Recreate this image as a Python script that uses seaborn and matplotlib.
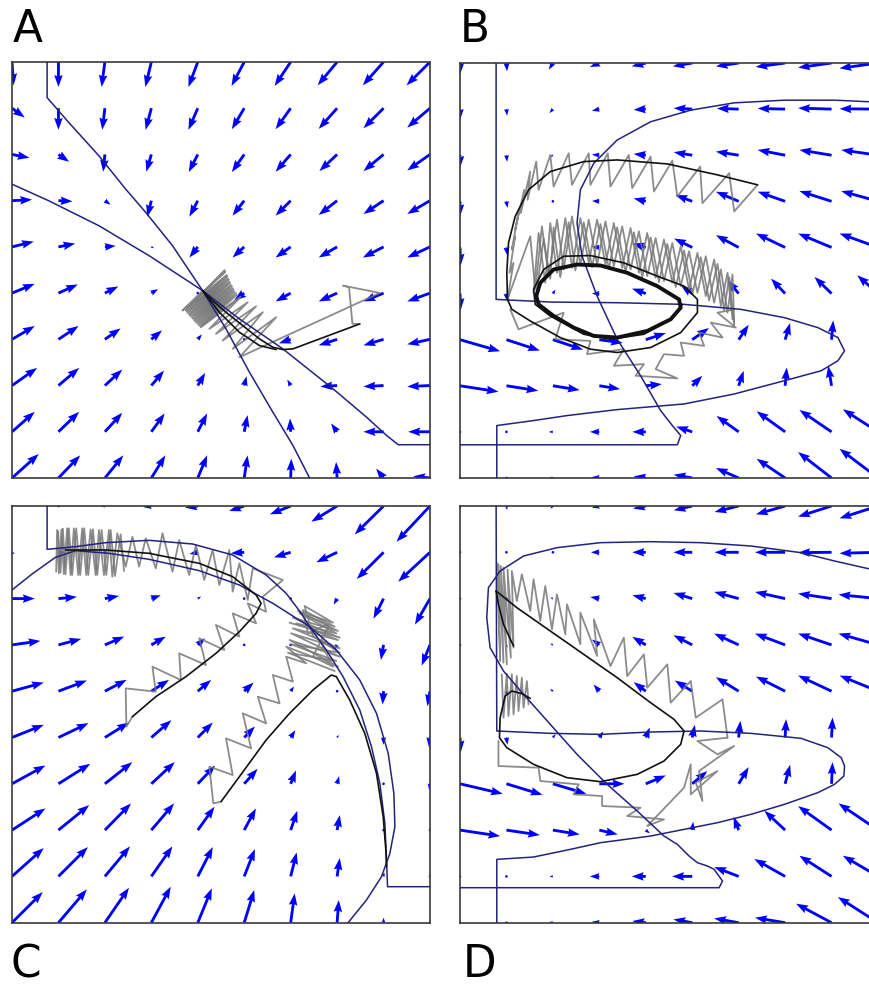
import numpy as np
import matplotlib
matplotlib.use("Agg")
import matplotlib.pyplot as plt
import seaborn as sns

sns.set_style("white")
plt.rcParams['font.family'] = ['DejaVu Sans']

# ---------------- shared settings ----------------
GRID = np.linspace(0, 125, 10)          # 10 x 10 sampling grid of the phase plane
PANEL_LABELS = ["A", "B", "C", "D"]

# ---------------- panel A: vector field (rows listed top to bottom) ----------------
A_U = [
    [0.5, 0.0, -1.0, -1.8, -2.8, -3.8, -4.8, -5.8, -6.2, -7.0],
    [3.8, 0.0, -0.8, -1.7, -2.8, -3.7, -4.5, -5.5, -6.0, -6.8],
    [5.2, 3.2, -0.5, -1.5, -2.7, -3.7, -4.5, -5.3, -6.0, -6.8],
    [6.0, 4.2, 1.7, -1.2, -2.5, -3.5, -4.5, -5.5, -6.0, -6.8],
    [6.5, 5.0, 3.2, 0.8, -2.5, -3.5, -4.5, -5.5, -6.2, -6.8],
    [6.8, 5.8, 4.0, 2.0, -0.3, -3.0, -4.5, -5.5, -6.0, -6.8],
    [6.8, 6.0, 4.7, 3.2, 1.2, 0.0, -3.5, -5.5, -6.0, -6.8],
    [7.5, 6.2, 5.2, 3.8, 2.2, 0.7, -1.0, -5.0, -6.0, -6.8],
    [6.8, 6.2, 5.2, 4.0, 2.8, 1.0, -0.2, -1.8, -6.0, -6.5],
    [8.0, 6.5, 5.5, 4.2, 2.8, 1.0, 0.2, -0.3, -2.2, -5.0],
]
A_V = [
    [-7.0, -7.5, -7.5, -7.5, -7.5, -7.2, -7.2, -7.0, -7.0, -7.0],
    [-2.8, -6.5, -6.5, -6.5, -6.5, -6.3, -6.3, -6.2, -6.0, -5.8],
    [-1.0, -2.2, -5.2, -5.2, -5.3, -5.3, -5.2, -5.0, -5.0, -4.8],
    [0.3, -0.2, -1.2, -4.8, -4.8, -4.5, -4.5, -4.3, -4.0, -4.0],
    [1.6, 1.0, 0.3, -0.4, -3.2, -3.2, -3.2, -3.2, -3.2, -3.2],
    [2.8, 2.6, 2.0, 1.2, -0.3, -2.2, -2.5, -2.5, -2.5, -2.5],
    [4.0, 4.0, 3.3, 2.7, 1.5, 0.5, -1.2, -1.8, -1.8, -1.5],
    [5.3, 5.3, 4.8, 4.5, 3.8, 2.8, 1.8, -0.3, -0.3, -0.3],
    [6.0, 6.0, 5.7, 5.5, 5.5, 5.0, 4.0, 2.5, 0.0, 0.0],
    [7.2, 6.8, 6.8, 6.8, 6.8, 6.8, 5.8, 4.8, 2.8, 0.5],
]
A_NULL_1 = [(10.5, 125.0), (10.5, 114.3), (17.0, 106.8), (26.0, 96.8), (34.0, 86.8),
            (40.0, 79.8), (48.0, 69.8), (57.0, 56.3), (64.0, 44.8), (71.0, 31.8),
            (78.0, 19.8), (84.0, 9.8), (89.0, 0.0)]
A_NULL_2 = [(0.0, 88.3), (11.0, 83.3), (26.0, 75.8), (41.0, 66.8), (57.0, 56.3),
            (68.0, 47.8), (81.0, 38.8), (96.0, 26.8), (106.0, 18.3), (112.0, 12.8),
            (115.5, 10.0), (125.0, 10.0)]
A_TRAJ_1 = [(104.0, 46.3), (96.0, 43.3), (88.0, 40.3), (84.0, 38.8), (81.0, 38.6),
            (78.0, 39.3), (74.0, 41.8), (69.0, 45.8), (64.0, 49.8), (60.0, 53.3),
            (57.0, 56.3)]
A_TRAJ_2 = [(57.0, 56.3), (62.0, 49.8), (68.0, 43.8), (74.0, 39.8), (79.0, 38.6)]
A_EULER_1 = [(104.0, 46.3), (101.8, 46.3), (100.8, 57.3), (99.0, 57.8), (110.0, 55.6),
             (68.0, 36.3), (79.0, 48.3), (66.0, 38.8), (75.0, 49.8), (63.0, 41.3),
             (73.0, 51.6), (61.0, 43.3), (70.5, 52.8), (59.0, 44.8), (68.0, 54.0),
             (56.5, 45.3), (67.2, 55.0), (55.8, 46.0), (66.5, 56.0), (55.0, 46.8),
             (66.0, 57.0), (54.3, 47.6), (65.5, 58.0), (53.6, 48.4), (65.0, 59.0),
             (52.9, 49.2), (64.6, 60.0), (52.2, 50.0), (64.2, 61.0), (51.6, 50.8),
             (63.8, 62.0), (51.0, 50.3), (57.0, 56.3)]
A_EULER_2 = [(68.4, 54.5), (56.2, 45.6), (67.0, 55.6), (55.4, 46.4), (66.3, 56.6),
             (54.6, 47.2), (65.8, 57.6), (54.0, 48.0), (65.2, 58.6), (53.2, 48.8),
             (64.8, 59.6), (52.5, 49.6), (64.4, 60.6), (51.9, 50.4), (63.6, 62.5)]

# ---------------- panel B ----------------
B_U = [
    [0.0, 0.2, -1.2, -2.8, -4.2, -5.8, -6.8, -8.8, -10.0, -11.5],
    [0.0, 0.2, -1.0, -2.2, -3.6, -5.5, -6.5, -8.2, -10.0, -11.5],
    [0.0, 0.2, -0.8, -2.2, -3.6, -5.5, -6.8, -8.2, -9.6, -11.0],
    [0.0, 0.3, -0.6, -2.2, -3.6, -5.0, -6.8, -8.2, -9.6, -11.0],
    [0.2, 0.3, -0.6, -2.2, -4.0, -5.4, -6.8, -8.7, -10.0, -11.5],
    [0.2, 0.3, 0.8, -2.2, -4.1, -3.4, -3.3, -4.2, -5.1, -6.2],
    [12.0, 10.0, 9.0, 7.0, 6.0, 5.0, 3.0, 1.5, 0.5, 0.0],
    [11.5, 9.5, 8.0, 6.2, 4.8, 3.0, 1.5, 0.5, -1.0, -2.5],
    [0.1, 0.1, -1.2, -2.8, -4.0, -4.8, -6.6, -8.5, -9.6, -10.5],
    [0.1, 0.1, -1.0, -2.5, -3.6, -5.5, -6.8, -8.5, -10.0, -11.5],
]
B_V = [
    [-3.5, -2.5, -2.0, -1.2, -1.0, -1.0, -1.0, -1.2, -1.4, -1.6],
    [-3.2, -2.0, -1.2, -0.5, -0.2, 0.3, 0.2, 0.2, 0.3, 0.1],
    [-3.8, -2.0, -0.5, 0.2, 0.4, 0.9, 1.1, 1.6, 1.6, 1.6],
    [-4.5, -2.0, -0.4, 0.1, 0.9, 1.9, 2.9, 2.9, 3.1, 3.1],
    [-5.5, -2.5, -0.3, 0.2, 1.2, 2.7, 3.7, 4.2, 4.2, 4.2],
    [-5.0, -2.5, 1.2, 0.0, 1.5, 2.5, 4.0, 4.5, 5.0, 5.5],
    [-3.5, -3.3, -3.0, -1.0, 2.0, 3.5, 4.5, 5.0, 5.8, 5.5],
    [-1.8, -1.5, -1.3, -1.0, 0.5, 3.0, 4.5, 5.5, 6.0, 7.0],
    [0.0, 0.0, 0.0, 0.0, 0.0, 1.6, 4.8, 6.2, 6.6, 6.8],
    [0.0, 0.0, 0.3, 0.2, 0.5, 1.0, 3.0, 5.8, 7.8, 8.8],
]
B_NULL_1 = [(10.8, 125.0), (10.8, 53.8), (27.0, 53.0), (47.0, 52.8), (67.0, 52.3),
            (84.0, 50.8), (97.0, 48.3), (107.0, 45.3), (113.0, 42.3), (115.0, 38.3),
            (113.0, 35.3), (108.0, 32.3), (97.0, 29.3), (82.0, 25.3), (67.0, 22.3),
            (47.0, 20.6), (32.0, 18.8), (22.0, 17.3), (11.0, 15.8), (11.0, 0.0)]
B_NULL_2 = [(0.0, 10.0), (65.0, 10.0), (66.0, 12.8), (63.5, 15.8), (60.0, 20.3),
            (54.0, 30.8), (47.0, 41.8), (41.0, 54.8), (36.5, 66.8), (35.0, 76.8),
            (36.0, 86.8), (40.0, 94.8), (47.0, 101.8), (57.0, 107.3), (69.0, 110.8),
            (82.0, 113.0), (97.0, 113.8), (112.0, 113.8), (123.0, 113.3), (127.0, 113.1)]
B_TRAJ_1 = [(89.0, 88.3), (77.0, 91.3), (62.0, 94.6), (47.0, 95.8), (37.0, 95.3),
            (27.0, 92.3), (20.5, 86.8), (16.5, 78.8), (14.5, 70.8), (14.0, 61.8),
            (14.2, 53.8), (15.5, 50.8), (21.0, 47.3), (30.0, 42.3), (39.0, 38.8),
            (47.0, 37.8), (57.0, 39.3), (66.0, 43.8), (71.0, 49.8), (71.0, 53.8),
            (67.0, 57.8), (59.0, 60.8), (49.0, 64.8), (39.0, 67.0), (31.0, 66.8),
            (25.0, 62.8), (22.0, 56.8), (22.5, 52.3), (27.0, 48.8), (37.0, 43.3),
            (45.0, 41.8), (55.0, 43.3), (63.0, 47.8), (66.5, 52.3)]
B_CYCLE = [(22.8, 54.8), (24.0, 58.8), (28.0, 62.8), (35.0, 64.3), (42.0, 64.0),
           (50.0, 61.8), (59.0, 57.8), (65.5, 53.8), (66.0, 51.3), (63.0, 47.8),
           (56.0, 44.3), (47.0, 42.3), (40.0, 42.8), (34.0, 45.3), (28.0, 48.8),
           (23.5, 52.3), (22.8, 54.8)]
B_EULER_1 = [(89.0, 88.3), (82.0, 80.3), (80.5, 91.8), (72.5, 82.8), (71.8, 93.8),
             (65.0, 84.8), (63.5, 95.6), (58.0, 86.3), (57.0, 96.8), (51.5, 87.3),
             (50.5, 97.3), (45.0, 87.8), (44.2, 97.8), (39.0, 88.3), (38.5, 97.8),
             (33.5, 88.3), (32.5, 97.8), (28.0, 87.8), (27.0, 97.3), (23.5, 86.8),
             (22.8, 95.3), (20.2, 83.8), (21.0, 92.3), (18.2, 79.8), (19.2, 86.8),
             (16.5, 74.8), (17.5, 79.8), (15.5, 68.8), (16.5, 72.8), (14.8, 61.8),
             (16.0, 64.8), (14.2, 53.8)]
B_EULER_2 = [(14.2, 53.8), (21.0, 72.8), (22.5, 56.8), (24.5, 75.8), (26.5, 60.8),
             (29.0, 77.8), (31.0, 62.8), (33.5, 78.8), (36.0, 64.3), (38.5, 77.8),
             (41.0, 64.3), (43.5, 77.3), (46.0, 63.8), (48.5, 75.8), (51.0, 62.8),
             (53.5, 74.3), (56.0, 60.8), (58.5, 72.3), (61.0, 59.3), (63.5, 70.8),
             (66.0, 57.8), (68.5, 68.3), (71.0, 55.8), (73.5, 66.8), (76.0, 52.8),
             (78.0, 62.8), (80.0, 49.8), (81.5, 61.3), (82.0, 46.8)]
B_EULER_3 = [(22.0, 55.8), (23.5, 73.8), (25.5, 58.8), (27.0, 76.8), (29.0, 61.8),
             (31.5, 78.3), (33.5, 63.3), (36.0, 78.3), (38.5, 64.8), (41.0, 77.8),
             (43.5, 64.3), (46.0, 76.8), (48.5, 63.3), (51.0, 75.3), (53.5, 61.8),
             (56.0, 73.8), (58.5, 60.3), (61.0, 71.8), (63.5, 58.8), (66.0, 69.8),
             (68.5, 56.8), (71.0, 67.8), (73.5, 54.8), (76.0, 65.8), (78.0, 51.8),
             (80.0, 61.8), (81.5, 47.8)]
B_EULER_4 = [(15.0, 50.8), (17.5, 44.8), (31.0, 49.8), (28.5, 41.8), (39.0, 41.3),
             (38.0, 37.3), (49.0, 38.8), (46.0, 33.8), (55.0, 34.3), (52.5, 30.8),
             (65.0, 30.0), (58.5, 32.8), (61.0, 37.3), (67.0, 36.8), (66.0, 40.8),
             (73.0, 39.8), (71.5, 43.8), (78.5, 42.3), (75.0, 46.8), (82.5, 45.3),
             (77.0, 49.8), (82.0, 50.8)]
B_EULER_5 = [(23.0, 57.0), (25.0, 72.0), (27.0, 60.0), (28.0, 75.5), (30.0, 60.5),
             (32.5, 77.0), (34.5, 62.5), (37.0, 77.0), (39.5, 63.5), (42.0, 76.5),
             (44.5, 63.0), (47.0, 75.5), (49.5, 62.0), (52.0, 74.0), (54.5, 60.5),
             (57.0, 72.5), (59.5, 59.0), (62.0, 70.5), (64.5, 57.5), (67.0, 68.5),
             (69.5, 55.5), (72.0, 66.5), (74.5, 53.5), (77.0, 64.5), (79.0, 50.5),
             (80.5, 60.5), (82.0, 46.0)]

# ---------------- panel C ----------------
C_U = [
    [0.0, -0.3, -1.2, -2.5, -3.8, -4.5, -6.2, -7.7, -8.6, -10.0],
    [0.8, 2.0, 0.5, -1.0, -2.5, -4.0, -5.0, -6.2, -8.0, -9.5],
    [6.8, 5.5, 4.2, 2.8, 1.0, -0.5, -0.3, -1.0, -3.0, -4.5],
    [8.5, 6.8, 5.8, 4.3, 2.2, 0.5, -0.3, -0.8, -0.8, -2.5],
    [9.5, 8.5, 6.5, 5.3, 4.0, 2.8, 1.0, 0.2, -0.3, -0.8],
    [9.5, 9.0, 7.2, 6.0, 4.5, 3.2, 1.4, 0.5, 0.0, -0.3],
    [10.0, 9.5, 8.2, 7.0, 5.2, 4.0, 1.6, 0.6, 0.0, -0.3],
    [10.0, 9.2, 7.8, 6.8, 5.0, 3.5, 2.0, 0.8, 0.2, -0.2],
    [9.5, 8.8, 7.5, 6.3, 4.5, 3.2, 1.8, 0.8, 0.2, -0.1],
    [9.2, 8.5, 7.2, 5.8, 4.2, 3.0, 1.2, 0.5, 0.0, 0.0],
]
C_V = [
    [0.0, 0.0, -0.2, -0.3, -0.5, -1.5, -2.5, -4.7, -8.5, -10.7],
    [-0.5, 0.0, -0.3, -0.5, -0.5, -0.3, -1.5, -3.0, -8.0, -8.8],
    [0.0, 0.5, 0.8, 1.0, 0.6, -0.5, -0.2, -1.8, -6.0, -7.8],
    [1.2, 1.8, 2.5, 2.5, 2.0, 0.5, -0.5, -1.5, -4.5, -6.2],
    [2.6, 3.2, 3.4, 3.4, 3.4, 2.6, 1.4, 0.2, -4.0, -4.5],
    [3.8, 4.3, 4.5, 5.2, 4.5, 3.3, 2.2, 0.8, -2.2, -3.0],
    [5.5, 6.0, 6.5, 6.5, 5.5, 4.5, 4.0, 2.3, -0.5, -1.8],
    [6.5, 7.5, 8.0, 8.0, 7.0, 6.5, 5.8, 4.5, 0.5, -0.5],
    [8.5, 8.8, 9.0, 9.0, 8.8, 8.2, 7.2, 5.5, 1.2, 0.8],
    [9.2, 10.0, 10.5, 10.8, 10.3, 9.8, 8.8, 6.8, 1.5, 0.2],
]
C_NULL_1 = [(10.5, 125.0), (10.5, 112.0), (19.0, 112.8), (28.0, 114.0), (41.0, 114.7),
            (54.0, 113.6), (66.0, 110.3), (76.0, 104.3), (82.0, 98.8), (86.5, 92.8),
            (89.0, 88.8), (94.0, 81.8), (99.0, 73.8), (104.0, 63.8), (107.5, 52.8),
            (110.0, 41.8), (111.5, 29.8), (112.0, 18.8), (112.3, 10.8), (125.0, 10.8)]
C_NULL_2 = [(0.0, 99.8), (6.0, 104.6), (13.0, 109.6), (19.0, 111.6), (29.0, 110.8),
            (41.0, 109.0), (56.0, 105.6), (68.0, 101.3), (78.0, 95.8), (89.0, 88.8),
            (97.0, 81.8), (104.0, 72.8), (109.0, 62.8), (112.5, 50.8), (114.2, 38.8),
            (114.5, 28.8), (113.0, 20.8), (110.5, 13.8), (106.0, 6.8), (100.5, 0.0)]
C_TRAJ_1 = [(36.0, 61.8), (43.0, 67.8), (52.0, 73.8), (61.0, 80.8), (68.0, 87.3),
            (73.0, 92.8), (74.5, 95.8), (73.0, 98.3), (66.0, 103.8), (56.0, 107.8),
            (41.0, 110.8), (28.0, 111.8), (16.0, 111.8)]
C_TRAJ_2 = [(62.5, 36.3), (68.0, 43.8), (76.0, 54.8), (83.0, 62.8), (90.0, 69.8),
            (95.5, 74.3), (97.0, 73.8), (101.0, 66.8), (105.5, 56.8), (109.0, 44.8),
            (111.0, 31.8), (111.8, 21.8), (112.0, 16.8)]
C_EULER_1 = [(36.0, 61.8), (34.2, 58.8), (34.0, 70.3), (43.0, 69.3), (42.0, 76.8),
             (50.5, 72.8), (50.0, 80.8), (58.0, 77.3), (56.0, 85.3), (63.5, 81.8),
             (61.0, 89.3), (68.0, 85.8), (66.0, 92.8), (73.0, 89.8), (70.5, 95.8),
             (76.0, 93.3), (75.0, 97.8), (81.0, 102.8), (72.0, 106.3), (70.5, 96.8),
             (68.0, 107.8), (66.0, 99.3), (65.0, 111.8), (62.0, 101.3), (60.0, 111.8),
             (57.5, 102.8), (55.0, 113.3), (53.0, 104.3), (50.0, 114.8), (48.0, 105.3),
             (45.0, 116.8), (43.0, 106.3), (40.0, 115.3), (38.0, 106.8), (36.0, 115.8),
             (34.0, 106.8), (31.5, 116.8), (30.0, 103.8), (29.0, 117.8), (27.5, 104.3),
             (26.0, 117.8), (25.0, 104.3), (23.5, 118.0), (22.2, 104.3), (21.0, 118.3),
             (19.8, 104.3), (18.5, 118.3), (17.5, 104.3), (16.5, 118.3), (15.5, 104.6),
             (14.8, 118.0), (14.0, 104.8), (13.5, 117.8), (13.2, 105.3)]
C_EULER_2 = [(62.5, 36.3), (60.2, 35.8), (59.0, 46.8), (66.0, 44.3), (64.0, 55.3),
             (71.5, 52.3), (69.0, 62.8), (76.0, 59.8), (73.5, 67.8), (80.0, 65.8),
             (78.0, 74.3), (84.0, 72.3), (82.0, 79.8), (88.0, 77.8), (82.0, 82.8),
             (97.5, 76.8), (83.0, 84.8), (98.0, 79.8), (83.5, 86.8), (98.0, 82.3),
             (84.0, 88.3), (97.5, 84.8), (85.0, 89.8), (97.0, 86.8), (86.0, 92.8),
             (96.5, 88.8), (87.0, 93.8), (88.5, 86.8), (95.0, 89.8), (90.0, 79.8),
             (96.0, 76.8), (92.0, 84.8)]
C_EULER_3 = [(13.8, 117.5), (14.5, 105.0), (15.2, 118.2), (16.0, 104.5), (17.0, 118.3),
             (18.0, 104.3), (19.2, 118.3), (20.4, 104.3), (21.6, 118.3), (22.8, 104.3),
             (24.2, 118.0), (25.5, 104.3), (26.8, 117.8), (28.2, 104.3), (29.5, 117.8),
             (30.8, 104.0), (32.5, 116.5), (33.5, 105.5)]
C_EULER_4 = [(83.0, 90.0), (98.0, 85.5), (84.0, 91.5), (97.5, 87.5), (85.5, 93.5),
             (96.0, 90.0), (87.5, 95.0), (90.0, 86.0), (98.0, 81.0), (83.5, 83.5),
             (97.0, 78.5), (82.5, 81.0), (96.5, 75.5)]

# ---------------- panel D ----------------
D_U = [
    [0.0, 0.2, -0.8, -2.2, -3.8, -5.5, -7.2, -8.7, -10.0, -11.5],
    [0.0, 0.0, -0.8, -2.5, -4.0, -5.6, -7.2, -9.0, -10.0, -11.5],
    [0.0, 0.0, -0.8, -2.7, -4.0, -5.6, -7.3, -9.0, -10.0, -11.8],
    [0.0, 0.3, -0.8, -2.2, -4.0, -5.6, -7.3, -9.0, -10.0, -11.8],
    [0.0, 0.3, -0.8, -1.7, -3.6, -5.2, -6.8, -8.7, -10.0, -11.5],
    [0.2, 0.3, 0.8, 1.2, 1.2, 0.8, 0.5, 0.3, 0.3, -0.5],
    [12.8, 10.8, 10.0, 7.5, 6.0, 4.5, 3.0, 1.5, 0.3, -2.0],
    [12.0, 10.0, 8.0, 5.5, 1.2, 0.3, -1.5, -6.2, -10.0, -11.8],
    [0.0, 0.0, -1.0, -2.8, -4.2, -6.0, -7.3, -9.2, -9.6, -10.5],
    [0.0, 0.0, -1.0, -2.2, -4.0, -5.6, -7.3, -9.0, -10.6, -12.0],
]
D_V = [
    [-1.2, -1.2, -0.8, -0.5, -0.8, -1.3, -1.8, -2.5, -3.2, -3.7],
    [-0.5, 0.0, 0.0, 0.0, 0.0, 0.0, 0.0, 0.0, -0.1, -0.3],
    [0.0, 0.0, 0.3, 0.5, 1.0, 1.7, 2.0, 2.0, 1.5, 1.2],
    [0.0, -0.8, 0.4, 1.6, 2.4, 2.9, 3.4, 3.4, 3.4, 3.4],
    [-1.0, -1.5, 0.7, 2.0, 2.7, 3.2, 4.2, 4.4, 4.7, 4.7],
    [-4.5, -2.2, 1.0, 1.8, 3.0, 3.8, 5.0, 5.5, 6.0, 6.0],
    [-3.0, -3.3, -3.0, 0.0, 2.5, 3.8, 5.0, 5.7, 6.5, 6.0],
    [-1.8, -1.5, -1.3, -1.3, -1.0, 2.5, 4.0, 5.8, 7.2, 8.0],
    [0.0, 0.0, 0.0, 0.0, 0.0, 0.0, 2.8, 5.2, 6.2, 6.2],
    [0.0, 0.0, 0.3, 0.3, 0.5, 1.0, 1.3, 1.5, 5.7, 7.7],
]
D_NULL_1 = [(10.8, 125.0), (11.0, 57.5), (27.0, 56.8), (42.0, 56.5), (57.0, 57.2),
            (72.0, 57.5), (87.0, 56.8), (102.0, 55.3), (110.0, 52.5), (114.0, 49.5),
            (115.0, 47.0), (114.8, 44.0), (112.0, 41.5), (107.0, 39.0), (97.0, 35.5),
            (87.0, 32.5), (77.0, 30.0), (67.0, 28.0), (57.0, 26.0), (42.0, 24.0),
            (33.0, 22.0), (22.0, 19.7), (11.0, 19.0), (11.0, 0.0)]
D_NULL_2 = [(0.0, 10.5), (77.5, 10.5), (78.5, 12.5), (76.0, 16.0), (74.0, 17.0),
            (71.0, 18.0), (68.5, 20.0), (65.0, 23.5), (61.0, 26.0), (53.0, 33.5),
            (44.0, 41.5), (35.0, 50.5), (27.0, 59.5), (19.0, 68.5), (13.0, 75.5),
            (9.0, 82.5), (8.0, 91.5), (8.5, 100.5), (12.0, 105.5), (19.0, 110.0),
            (29.0, 112.5), (42.0, 114.0), (57.0, 114.3), (72.0, 114.0), (87.0, 113.0),
            (102.0, 111.0), (112.0, 108.5), (123.0, 106.0), (127.0, 105.0)]
D_TRAJ_1 = [(10.8, 99.5), (17.0, 94.5), (27.0, 87.5), (37.0, 80.5), (47.0, 73.5),
            (57.0, 66.0), (64.0, 61.0), (67.0, 57.5), (66.0, 53.5), (61.0, 48.5),
            (53.0, 44.5), (42.0, 42.3), (32.0, 43.5), (22.0, 47.5), (14.0, 52.5),
            (11.8, 55.5), (12.0, 61.5), (13.5, 68.0), (15.5, 69.5), (18.5, 68.7),
            (21.0, 67.3)]
D_TRAJ_2 = [(16.0, 83.0), (13.0, 89.5), (11.5, 95.5), (10.8, 99.5)]
D_EULER_1 = [(11.0, 108.0), (12.0, 78.5), (11.5, 107.5), (13.0, 78.0), (12.2, 107.0),
             (14.0, 77.5), (13.0, 106.5), (15.2, 79.5), (14.2, 106.0), (16.0, 82.5),
             (15.5, 105.5), (17.0, 96.5), (18.5, 104.5), (21.0, 93.5), (22.0, 103.0),
             (24.0, 90.5), (25.5, 101.0), (27.5, 88.0), (29.0, 98.5), (31.5, 86.5),
             (32.0, 95.5), (36.0, 83.5), (36.0, 93.0), (41.0, 80.0), (40.0, 91.0),
             (45.0, 77.0), (49.0, 85.5), (50.0, 74.0), (55.0, 80.5), (56.0, 70.5),
             (62.0, 77.5), (63.0, 66.0), (69.0, 72.5), (70.5, 61.5), (78.5, 67.0),
             (80.0, 55.5)]
D_EULER_2 = [(12.5, 74.5), (13.0, 61.5), (14.0, 74.7), (14.5, 62.0), (15.5, 74.5),
             (16.0, 62.5), (17.0, 74.0), (17.5, 63.5), (18.5, 73.5), (19.0, 64.5),
             (20.0, 72.5), (20.5, 65.5)]
D_EULER_3 = [(11.5, 54.5), (11.5, 47.0), (23.5, 46.5), (24.0, 42.5), (35.5, 41.5),
             (34.0, 38.5), (42.5, 38.0), (42.5, 35.0), (54.0, 34.5), (50.0, 32.0),
             (61.0, 31.0), (56.0, 29.0), (67.0, 40.5), (69.0, 47.5), (69.0, 38.5),
             (77.0, 45.5), (70.5, 42.0), (72.5, 36.5), (71.5, 45.5), (82.0, 53.0),
             (77.0, 50.5), (71.0, 54.5), (80.0, 55.5)]

# ---------------- styles ----------------
ARROW_BLUE = "#0000ff"
NULL_NAVY = "#23237e"
EULER_GREY = "#777777"
TRAJ_BLACK = "#111111"

W_IN, H_IN = 8.7, 9.86
fig = plt.figure(figsize=(W_IN, H_IN), dpi=100)

def frac(left_px, top_px, bottom_px, width_px=418):
    return [left_px / 870, (986 - bottom_px) / 986, width_px / 870, (bottom_px - top_px) / 986]

axes = [
    fig.add_axes(frac(12, 62, 478)),
    fig.add_axes(frac(460, 63, 478)),
    fig.add_axes(frac(12, 506, 922.7)),
    fig.add_axes(frac(460, 506, 922.7)),
]


def draw_line(ax, pts, color, lw, z, alpha=1.0):
    x, y = zip(*pts)
    sns.lineplot(x=list(x), y=list(y), sort=False, estimator=None, color=color,
                 linewidth=lw, alpha=alpha, ax=ax, zorder=z, legend=False)


def draw_panel(ax, U, V, nulls, eulers, trajs, thick=()):
    X, Y = np.meshgrid(GRID, GRID[::-1])
    ax.quiver(X, Y, np.array(U), np.array(V), color=ARROW_BLUE, angles='xy',
              scale_units='xy', scale=1, width=0.0068, headwidth=3.0,
              headlength=4.2, headaxislength=3.8, zorder=1)
    for pts in eulers:
        draw_line(ax, pts, EULER_GREY, 1.3, 2, alpha=0.85)
    for pts in nulls:
        draw_line(ax, pts, NULL_NAVY, 1.1, 3)
    for pts in trajs:
        draw_line(ax, pts, TRAJ_BLACK, 1.2, 4)
    for pts in thick:
        draw_line(ax, pts, TRAJ_BLACK, 2.8, 5)
    ax.set_xlim(0, 125)
    ax.set_ylim(0, 125)
    ax.set_xticks([])
    ax.set_yticks([])
    ax.set_xlabel("")
    ax.set_ylabel("")
    for s in ax.spines.values():
        s.set_visible(True)
        s.set_color("#3a3a3a")
        s.set_linewidth(1.2)


draw_panel(axes[0], A_U, A_V, [A_NULL_1, A_NULL_2], [A_EULER_1, A_EULER_2],
           [A_TRAJ_1, A_TRAJ_2])
draw_panel(axes[1], B_U, B_V, [B_NULL_1, B_NULL_2],
           [B_EULER_1, B_EULER_2, B_EULER_3, B_EULER_4, B_EULER_5], [B_TRAJ_1],
           thick=[B_CYCLE])
draw_panel(axes[2], C_U, C_V, [C_NULL_1, C_NULL_2],
           [C_EULER_1, C_EULER_2, C_EULER_3, C_EULER_4], [C_TRAJ_1, C_TRAJ_2])
draw_panel(axes[3], D_U, D_V, [D_NULL_1, D_NULL_2], [D_EULER_1, D_EULER_2, D_EULER_3],
           [D_TRAJ_1, D_TRAJ_2])

# panel letters
label_pos = [(13, 42), (460, 42), (11, 977), (463, 977)]
for lab, (px, py) in zip(PANEL_LABELS, label_pos):
    fig.text(px / 870, 1 - py / 986, lab, fontsize=31.5, color="black",
             ha="left", va="baseline")

fig.savefig("out.png", dpi=100)
